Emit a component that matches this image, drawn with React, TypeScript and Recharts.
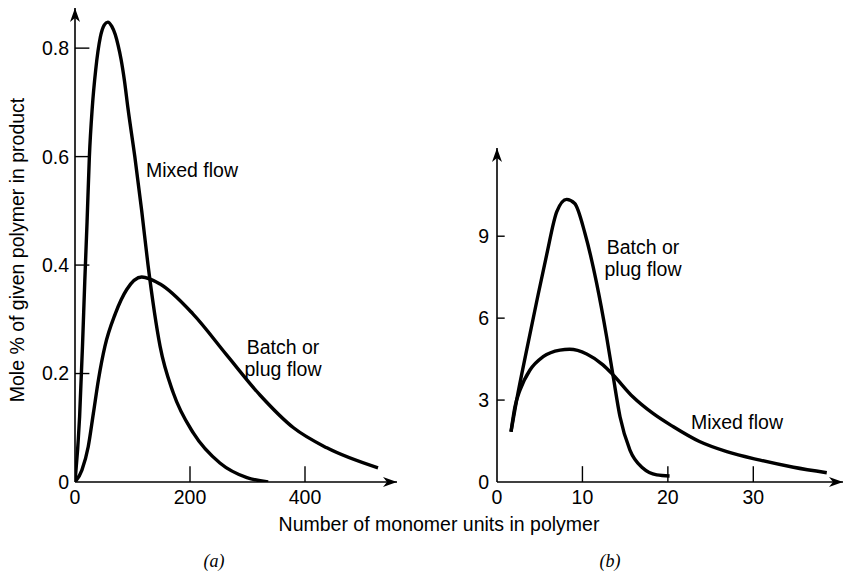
import React from 'react';
import { LineChart, Line, XAxis, YAxis, ReferenceLine, ReferenceDot } from 'recharts';

// (a) chain length distributions, long chains
const mixedA = [
  { x: 0, y: 0 }, { x: 8, y: 0.12 }, { x: 13, y: 0.25 }, { x: 17, y: 0.37 },
  { x: 21, y: 0.48 }, { x: 25, y: 0.6 }, { x: 30, y: 0.69 }, { x: 36, y: 0.76 },
  { x: 44, y: 0.82 }, { x: 51, y: 0.843 }, { x: 57, y: 0.848 }, { x: 64, y: 0.84 },
  { x: 70, y: 0.825 }, { x: 75, y: 0.805 }, { x: 80, y: 0.78 }, { x: 86, y: 0.74 },
  { x: 92, y: 0.69 }, { x: 104, y: 0.6 }, { x: 116, y: 0.5 }, { x: 127, y: 0.4 },
  { x: 148, y: 0.25 }, { x: 171, y: 0.164 }, { x: 206, y: 0.09 }, { x: 252, y: 0.035 },
  { x: 299, y: 0.008 }, { x: 336, y: 0 },
];
const batchA = [
  { x: 0, y: 0 }, { x: 12, y: 0.022 }, { x: 23, y: 0.065 }, { x: 32, y: 0.127 },
  { x: 41, y: 0.19 }, { x: 52, y: 0.25 }, { x: 70, y: 0.31 }, { x: 90, y: 0.355 },
  { x: 116, y: 0.378 }, { x: 148, y: 0.365 }, { x: 205, y: 0.31 }, { x: 264, y: 0.234 },
  { x: 322, y: 0.16 }, { x: 380, y: 0.1 }, { x: 438, y: 0.063 }, { x: 527, y: 0.026 },
];
const ticksXA = [0, 200, 400];
const ticksYA = [0, 0.2, 0.4, 0.6, 0.8];

// (b) short chains
const batchB = [
  { x: 1.64, y: 1.84 }, { x: 2.3, y: 3.0 }, { x: 3.47, y: 4.83 }, { x: 4.64, y: 6.6 },
  { x: 5.8, y: 8.3 }, { x: 7.0, y: 9.9 }, { x: 8.15, y: 10.35 }, { x: 9.1, y: 10.2 },
  { x: 10.3, y: 9.1 }, { x: 11.66, y: 7.28 }, { x: 12.83, y: 5.32 }, { x: 13.6, y: 3.86 },
  { x: 14.4, y: 2.39 }, { x: 15.56, y: 1.17 }, { x: 17.1, y: 0.5 }, { x: 18.7, y: 0.26 },
  { x: 20.2, y: 0.22 },
];
const mixedB = [
  { x: 1.64, y: 1.84 }, { x: 2.1, y: 2.75 }, { x: 2.7, y: 3.37 }, { x: 3.86, y: 4.1 },
  { x: 5.4, y: 4.59 }, { x: 7.37, y: 4.83 }, { x: 8.5, y: 4.86 }, { x: 10.5, y: 4.69 },
  { x: 12.4, y: 4.29 }, { x: 13.6, y: 3.92 }, { x: 15.9, y: 3.12 }, { x: 18.3, y: 2.5 },
  { x: 20.6, y: 2.03 }, { x: 23.7, y: 1.48 }, { x: 26.9, y: 1.11 }, { x: 30.8, y: 0.8 },
  { x: 34.7, y: 0.54 }, { x: 38.6, y: 0.34 },
];
const ticksXB = [0, 10, 20, 30];
const ticksYB = [0, 3, 6, 9];

const font = '"Liberation Sans", Arial, sans-serif';
const tickStyle = { fill: '#000', fontSize: 19.5, fontFamily: font };

const arrowRight = (p: any) => (
  <polygon
    points={`${p.cx},${p.cy} ${p.cx - 14},${p.cy - 5} ${p.cx - 10},${p.cy} ${p.cx - 14},${p.cy + 5}`}
    fill="#000"
  />
);
const arrowUp = (p: any) => (
  <polygon
    points={`${p.cx},${p.cy} ${p.cx - 5},${p.cy + 14} ${p.cx},${p.cy + 10} ${p.cx + 5},${p.cy + 14}`}
    fill="#000"
  />
);

const label = (text: string, left: number, top: number, extra: React.CSSProperties = {}) => (
  <div
    style={{
      position: 'absolute', left, top, transform: 'translate(-50%, -50%)',
      fontFamily: font, fontSize: 19.5, color: '#000', whiteSpace: 'nowrap',
      textAlign: 'center', lineHeight: '22px', ...extra,
    }}
  >
    {text}
  </div>
);

export default function App() {
  const xMaxA = 560, yMaxA = 0.874;
  const xMaxB = 40.5, yMaxB = 12.23;
  return (
    <div style={{ position: 'absolute', left: 0, top: 0, width: 846, height: 578, background: '#fff' }}>
      <div style={{ position: 'absolute', left: 0, top: 0 }}>
        <LineChart width={420} height={578} margin={{ top: 8, right: 23, bottom: 66, left: 0 }}>
          <XAxis
            type="number" dataKey="x" domain={[0, xMaxA]} ticks={ticksXA} allowDataOverflow
            height={30} tickSize={0} tickMargin={8} tickLine={false}
            axisLine={{ stroke: '#000', strokeWidth: 1.6 }} tick={tickStyle}
          />
          <YAxis
            type="number" domain={[0, yMaxA]} ticks={ticksYA} allowDataOverflow
            width={75} tickSize={0} tickMargin={6} tickLine={false}
            axisLine={{ stroke: '#000', strokeWidth: 1.6 }} tick={tickStyle}
          />
          {ticksXA.slice(1).map((t) => (
            <ReferenceLine key={`xa${t}`} segment={[{ x: t, y: 0 }, { x: t, y: 0.029 }]} stroke="#000" strokeWidth={1.4} />
          ))}
          {ticksYA.slice(1).map((t) => (
            <ReferenceLine key={`ya${t}`} segment={[{ x: 0, y: t }, { x: 25, y: t }]} stroke="#000" strokeWidth={1.4} />
          ))}
          <ReferenceDot x={xMaxA} y={0} r={0} ifOverflow="visible" shape={arrowRight} />
          <ReferenceDot x={0} y={yMaxA} r={0} ifOverflow="visible" shape={arrowUp} />
          <Line data={mixedA} dataKey="y" type="monotone" stroke="#000" strokeWidth={3.4} dot={false} isAnimationActive={false} />
          <Line data={batchA} dataKey="y" type="monotone" stroke="#000" strokeWidth={3.4} dot={false} isAnimationActive={false} />
        </LineChart>
      </div>
      <div style={{ position: 'absolute', left: 420, top: 0 }}>
        <LineChart width={426} height={578} margin={{ top: 148, right: 3, bottom: 66, left: 0 }}>
          <XAxis
            type="number" dataKey="x" domain={[0, xMaxB]} ticks={ticksXB} allowDataOverflow
            height={30} tickSize={0} tickMargin={8} tickLine={false}
            axisLine={{ stroke: '#000', strokeWidth: 1.6 }} tick={tickStyle}
          />
          <YAxis
            type="number" domain={[0, yMaxB]} ticks={ticksYB} allowDataOverflow
            width={77} tickSize={0} tickMargin={8} tickLine={false}
            axisLine={{ stroke: '#000', strokeWidth: 1.6 }} tick={tickStyle}
          />
          {ticksXB.slice(1).map((t) => (
            <ReferenceLine key={`xb${t}`} segment={[{ x: t, y: 0 }, { x: t, y: 0.58 }]} stroke="#000" strokeWidth={1.4} />
          ))}
          {ticksYB.slice(1).map((t) => (
            <ReferenceLine key={`yb${t}`} segment={[{ x: 0, y: t }, { x: 0.9, y: t }]} stroke="#000" strokeWidth={1.4} />
          ))}
          <ReferenceDot x={xMaxB} y={0} r={0} ifOverflow="visible" shape={arrowRight} />
          <ReferenceDot x={0} y={yMaxB} r={0} ifOverflow="visible" shape={arrowUp} />
          <Line data={batchB} dataKey="y" type="monotone" stroke="#000" strokeWidth={3.4} dot={false} isAnimationActive={false} />
          <Line data={mixedB} dataKey="y" type="monotone" stroke="#000" strokeWidth={3.4} dot={false} isAnimationActive={false} />
        </LineChart>
      </div>

      {label('Mixed flow', 192, 170)}
      {label('Batch or\nplug flow', 283, 358, { whiteSpace: 'pre' })}
      {label('Batch or\nplug flow', 643, 258, { whiteSpace: 'pre' })}
      {label('Mixed flow', 737, 422)}

      {label('Number of monomer units in polymer', 439, 524)}
      <div
        style={{
          position: 'absolute', left: 17, top: 250, transform: 'translate(-50%, -50%) rotate(-90deg)',
          fontFamily: font, fontSize: 19.5, color: '#000', whiteSpace: 'nowrap',
        }}
      >
        Mole % of given polymer in product
      </div>
      {label('(a)', 214, 561, { fontFamily: '"Liberation Serif", serif', fontStyle: 'italic', fontSize: 18 })}
      {label('(b)', 610, 561, { fontFamily: '"Liberation Serif", serif', fontStyle: 'italic', fontSize: 18 })}
    </div>
  );
}
